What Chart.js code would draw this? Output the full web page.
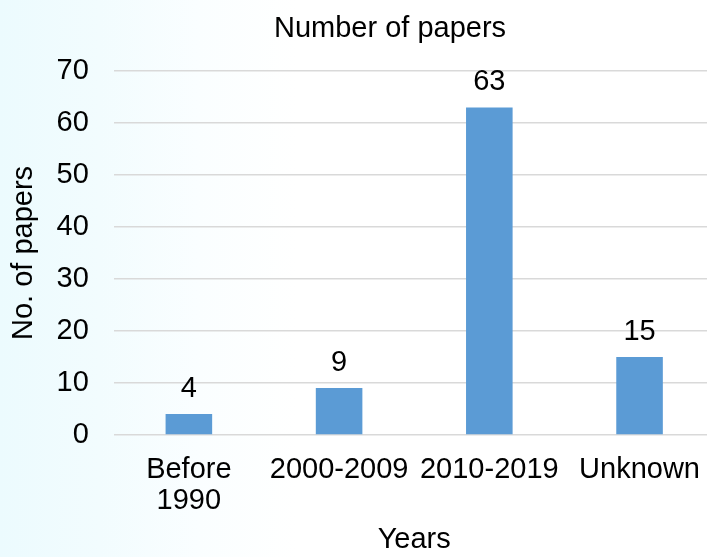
<!DOCTYPE html>
<html>
<head>
<meta charset="utf-8">
<script src="https://cdn.jsdelivr.net/npm/chart.js@4/dist/chart.umd.min.js"></script>
<style>
  html, body { margin: 0; padding: 0; overflow: hidden; width: 707px; height: 557px; }
  body { background: linear-gradient(to right, #ecfbfe 0%, #f2fcfe 14%, #fafeff 28%, #ffffff 42%); }
  #wrap { width: 720px; height: 557px; }
</style>
</head>
<body>
<div id="wrap"><canvas id="c" width="720" height="557"></canvas></div>
<script>
// Papers per publication period
const categories = [['Before', '1990'], '2000-2009', '2010-2019', 'Unknown'];
const paperCounts = [4, 9, 63, 15];
const yTicks = { min: 0, max: 70, step: 10 };
const chartTitle = 'Number of papers';

const FONT = 'Liberation Sans, Arial, Helvetica, sans-serif';
const SIZE = 29;

// Writes each bar's value just above it
const valueLabels = {
  id: 'valueLabels',
  afterDatasetsDraw(chart) {
    const ctx = chart.ctx;
    const meta = chart.getDatasetMeta(0);
    ctx.save();
    ctx.font = SIZE + 'px ' + FONT;
    ctx.fillStyle = '#000';
    ctx.textAlign = 'center';
    ctx.textBaseline = 'alphabetic';
    meta.data.forEach((bar, i) => {
      ctx.fillText(String(chart.data.datasets[0].data[i]), bar.x, bar.y - 17);
    });
    ctx.restore();
  }
};

// Chart heading, centred over the whole chart box rather than the canvas
const heading = {
  id: 'heading',
  afterDraw(chart) {
    const ctx = chart.ctx;
    ctx.save();
    ctx.font = SIZE + 'px ' + FONT;
    ctx.fillStyle = '#000';
    ctx.textAlign = 'center';
    ctx.textBaseline = 'middle';
    ctx.fillText(chartTitle, chart.width / 2 + 30, 29);
    ctx.restore();
  }
};

new Chart(document.getElementById('c'), {
  type: 'bar',
  data: {
    labels: categories,
    datasets: [{
      data: paperCounts,
      backgroundColor: '#5b9bd5',
      borderWidth: 0,
      categoryPercentage: 1,
      barPercentage: 0.31
    }]
  },
  options: {
    responsive: false,
    animation: false,
    layout: { padding: { left: 17, right: 0, top: 71, bottom: 12.5 } },
    plugins: {
      legend: { display: false },
      tooltip: { enabled: false },
      title: { display: false }
    },
    scales: {
      y: {
        min: yTicks.min,
        max: yTicks.max,
        ticks: {
          stepSize: yTicks.step,
          color: '#000',
          font: { family: FONT, size: SIZE },
          padding: 25
        },
        grid: { color: '#d9d9d9', lineWidth: 1.5, drawTicks: false },
        border: { display: false },
        title: {
          display: true,
          text: 'No. of papers',
          color: '#000',
          font: { family: FONT, size: SIZE, lineHeight: 0.5 },
          padding: 0
        }
      },
      x: {
        grid: { display: false, drawTicks: false },
        border: { display: false },
        ticks: {
          color: '#000',
          font: { family: FONT, size: SIZE, lineHeight: 1.05 },
          padding: 20,
          maxRotation: 0,
          autoSkip: false
        },
        title: {
          display: true,
          text: 'Years',
          color: '#000',
          font: { family: FONT, size: SIZE, lineHeight: 0.3 },
          padding: 0
        }
      }
    }
  },
  plugins: [valueLabels, heading]
});
</script>
</body>
</html>
